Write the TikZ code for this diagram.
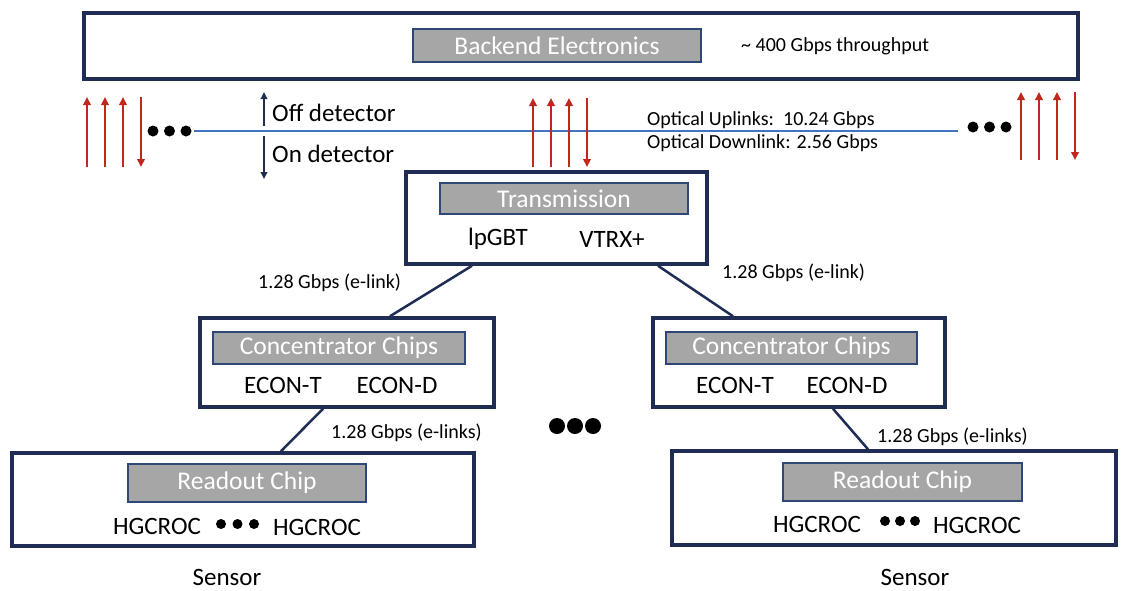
\documentclass[tikz,border=0pt]{standalone}
\usepackage{fontspec}
\setmainfont{Carlito}
\usetikzlibrary{arrows.meta,calc}
\definecolor{navy}{RGB}{31,45,84}
\definecolor{grayfill}{RGB}{166,166,166}
\definecolor{grayedge}{RGB}{47,70,120}
\definecolor{redarrow}{RGB}{192,40,30}
\definecolor{blueline}{RGB}{68,114,196}
\tikzset{
  outerbox/.style={draw=navy,line width=3.5pt,fill=white,inner sep=0pt},
  graybox/.style={draw=grayedge,line width=1.3pt,fill=grayfill,text=white,inner sep=0pt,font=\fontsize{25.5}{25.5}\selectfont},
  bigtxt/.style={font=\fontsize{25}{25}\selectfont,inner sep=0pt},
  smalltxt/.style={font=\fontsize{20}{20}\selectfont,inner sep=0pt,anchor=west},
  link/.style={draw=navy,line width=2.5pt},
  redup/.style={draw=redarrow,line width=2.5pt,-{Triangle[length=8pt,width=7.5pt]}},
  navyarr/.style={draw=navy,line width=2pt,-{Triangle[length=7pt,width=6.5pt]}}
}
\begin{document}
\begin{tikzpicture}[x=1pt,y=-1pt]
\useasboundingbox (0,0) rectangle (1126,590);
% backend
\node[outerbox,minimum width=994pt,minimum height=66pt] (backend) at (581,46) {};
\node[graybox,minimum width=288pt,minimum height=33pt] (backendlbl) at (557,45.5) {Backend Electronics};
\node[smalltxt] (thru) at (741,46) {\textasciitilde{} 400 Gbps throughput};
% blue line
\coordinate (bl1) at (194,131);
\coordinate (bl2) at (958,131);
\draw[blueline,line width=2.5pt] (bl1) -- (bl2);
% dots
\foreach \x in {153,169.5,186} \fill[black] (\x,131) circle (5.5);
\foreach \x in {973,989.5,1006} \fill[black] (\x,127) circle (5.5);
% red arrow groups
\foreach \x in {87,105,123} \draw[redup] (\x,167) -- (\x,97);
\draw[redup] (141,97) -- (141,167);
\foreach \x in {533,551,569} \draw[redup] (\x,167) -- (\x,98);
\draw[redup] (587,98) -- (587,167);
\foreach \x in {1021,1039,1057} \draw[redup] (\x,160) -- (\x,92);
\draw[redup] (1075,92) -- (1075,160);
% off/on detector
\draw[navyarr] (264,126) -- (264,92);
\draw[navyarr] (264,136) -- (264,179);
\node[bigtxt,anchor=west] (off) at (272,113) {Off detector};
\node[bigtxt,anchor=west] (on) at (272,154) {On detector};
\node[smalltxt] (up) at (647,120) {Optical Uplinks:\ \ 10.24 Gbps};
\node[smalltxt] (down) at (647,143) {Optical Downlink: 2.56 Gbps};
% transmission
\node[outerbox,minimum width=301pt,minimum height=92pt] (trans) at (556.5,218) {};
\node[graybox,minimum width=248pt,minimum height=31pt] (translbl) at (564,198.5) {Transmission};
\node[bigtxt] (lpgbt) at (498,239) {lpGBT};
\node[bigtxt] (vtrx) at (612,239) {VTRX+};
% concentrators
\node[outerbox,minimum width=294pt,minimum height=89pt] (concL) at (347,362.5) {};
\node[graybox,minimum width=252pt,minimum height=32pt] (concLlbl) at (339,348) {Concentrator Chips};
\node[bigtxt] (econtL) at (283,385) {ECON-T};
\node[bigtxt] (econdL) at (397,385) {ECON-D};
\node[outerbox,minimum width=292pt,minimum height=89pt] (concR) at (799,362.5) {};
\node[graybox,minimum width=251pt,minimum height=32pt] (concRlbl) at (791.5,348) {Concentrator Chips};
\node[bigtxt] (econtR) at (735,385) {ECON-T};
\node[bigtxt] (econdR) at (847,385) {ECON-D};
% readout
\node[outerbox,minimum width=462pt,minimum height=93pt] (readL) at (243,499.5) {};
\node[graybox,minimum width=238pt,minimum height=38pt] (readLlbl) at (247,483) {Readout Chip};
\node[bigtxt] (hgL1) at (157,526) {HGCROC};
\node[bigtxt] (hgL2) at (317,527) {HGCROC};
\foreach \x in {221,237.5,254} \fill[black] (\x,524) circle (5);
\node[outerbox,minimum width=444pt,minimum height=94pt] (readR) at (894,498) {};
\node[graybox,minimum width=239pt,minimum height=38pt] (readRlbl) at (902.5,482) {Readout Chip};
\node[bigtxt] (hgR1) at (817,524) {HGCROC};
\node[bigtxt] (hgR2) at (977,525) {HGCROC};
\foreach \x in {885,900,915} \fill[black] (\x,521) circle (5);
% middle dots
\foreach \x in {557,575,593} \fill[black] (\x,426) circle (8);
% links
\draw[link] ([xshift=-84.5pt]trans.south) -- ([xshift=43pt]concL.north);
\draw[link] ([xshift=101.5pt]trans.south) -- ([xshift=-66pt]concR.north);
\draw[link] ([xshift=-24pt]concL.south) -- ([xshift=38pt]readL.north);
\draw[link] ([xshift=34pt]concR.south) -- ([xshift=-26pt]readR.north);
\node[smalltxt] (l1) at (258,283) {1.28 Gbps (e-link)};
\node[smalltxt] (l2) at (722,273) {1.28 Gbps (e-link)};
\node[smalltxt] (l3) at (331,433) {1.28 Gbps (e-links)};
\node[smalltxt] (l4) at (877,437) {1.28 Gbps (e-links)};
% sensors
\node[bigtxt] (sensL) at (227,577) {Sensor};
\node[bigtxt] (sensR) at (915,577) {Sensor};
\end{tikzpicture}
\end{document}
